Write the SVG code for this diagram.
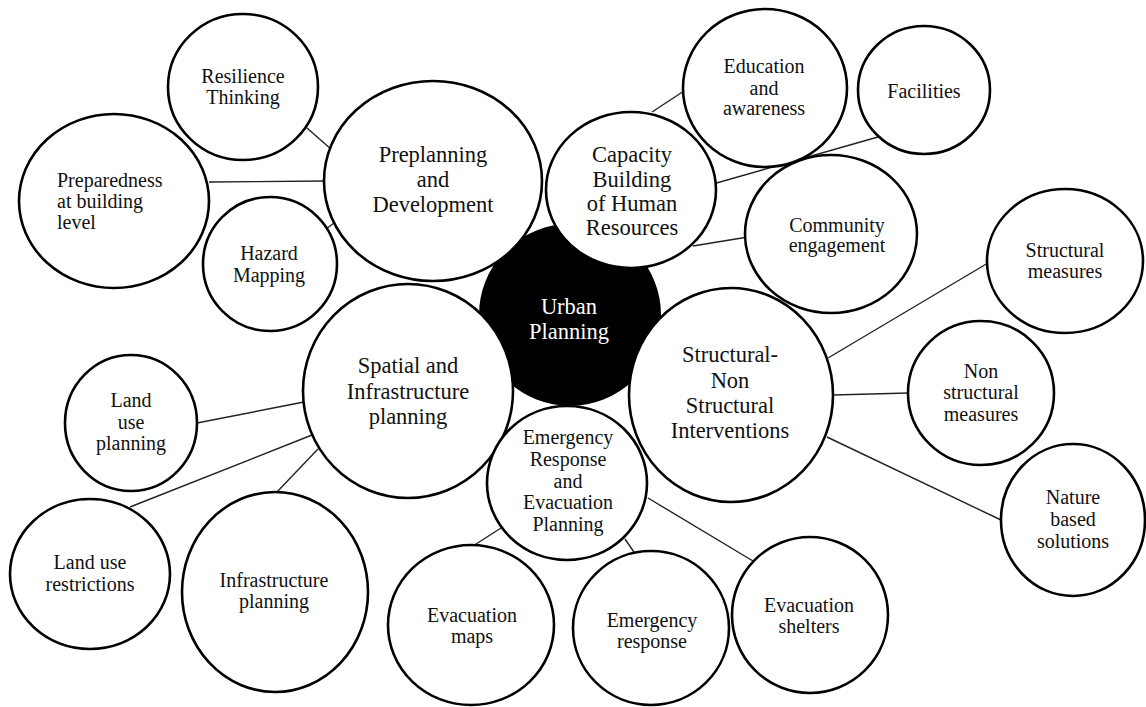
<svg xmlns="http://www.w3.org/2000/svg" width="1146" height="707" viewBox="0 0 1146 707">
<style>
.n{fill:#fff;stroke:#000;stroke-width:2.6}
.c{fill:#000;stroke:#000;stroke-width:2}
.l{stroke:#222;stroke-width:1.4;fill:none}
text{font-family:"Liberation Serif","DejaVu Serif","Times New Roman",serif;fill:#111;text-anchor:middle}
.m{font-size:22.5px}
.s{font-size:20px}
.w{fill:#fff}
</style>
<rect width="1146" height="707" fill="#fff"/>
<g id="connectors">
<line class="l" x1="307" y1="128" x2="332" y2="150"/>
<line class="l" x1="209" y1="182" x2="326" y2="181"/>
<line class="l" x1="326" y1="229" x2="334" y2="223"/>
<line class="l" x1="652" y1="112" x2="684" y2="91"/>
<line class="l" x1="713" y1="184" x2="878" y2="137"/>
<line class="l" x1="693" y1="246" x2="748" y2="237"/>
<line class="l" x1="828" y1="358" x2="988" y2="263"/>
<line class="l" x1="833" y1="395" x2="909" y2="393"/>
<line class="l" x1="827" y1="437" x2="1001" y2="520"/>
<line class="l" x1="197" y1="423" x2="304" y2="402"/>
<line class="l" x1="130" y1="507" x2="312" y2="435"/>
<line class="l" x1="276" y1="493" x2="318" y2="449"/>
<line class="l" x1="473" y1="546" x2="501" y2="528"/>
<line class="l" x1="625" y1="539" x2="638" y2="558"/>
<line class="l" x1="648" y1="498" x2="753" y2="561"/>
</g>
<g id="urban-planning"><ellipse class="c" cx="570" cy="315" rx="90" ry="90"/><text class="m w" x="569" y="314">Urban</text><text class="m w" x="569" y="339">Planning</text></g>
<g id="resilience-thinking"><ellipse class="n" cx="243" cy="87" rx="75" ry="73"/><text class="s" x="243" y="83">Resilience</text><text class="s" x="243" y="104">Thinking</text></g>
<g id="preparedness"><ellipse class="n" cx="114" cy="201" rx="95" ry="87"/><text class="s" x="57" y="187" style="text-anchor:start">Preparedness</text><text class="s" x="57" y="208" style="text-anchor:start">at building</text><text class="s" x="57" y="229" style="text-anchor:start">level</text></g>
<g id="hazard-mapping"><ellipse class="n" cx="270" cy="264" rx="67" ry="67"/><text class="s" x="269" y="260">Hazard</text><text class="s" x="269" y="282">Mapping</text></g>
<g id="preplanning"><ellipse class="n" cx="433" cy="181" rx="109" ry="100"/><text class="m" x="433" y="162">Preplanning</text><text class="m" x="433" y="187">and</text><text class="m" x="433" y="212">Development</text></g>
<g id="capacity-building"><ellipse class="n" cx="631" cy="190" rx="85" ry="78"/><text class="m" x="632" y="162">Capacity</text><text class="m" x="632" y="187">Building</text><text class="m" x="632" y="211">of Human</text><text class="m" x="632" y="235">Resources</text></g>
<g id="education"><ellipse class="n" cx="765" cy="88" rx="82" ry="79"/><text class="s" x="764" y="73">Education</text><text class="s" x="764" y="95">and</text><text class="s" x="764" y="115">awareness</text></g>
<g id="facilities"><ellipse class="n" cx="924" cy="90" rx="66" ry="64"/><text class="s" x="924" y="98">Facilities</text></g>
<g id="community"><ellipse class="n" cx="831" cy="234" rx="86" ry="79"/><text class="s" x="837" y="232">Community</text><text class="s" x="837" y="252">engagement</text></g>
<g id="structural-measures"><ellipse class="n" cx="1065" cy="261" rx="78" ry="72"/><text class="s" x="1065" y="257">Structural</text><text class="s" x="1065" y="278">measures</text></g>
<g id="non-structural-measures"><ellipse class="n" cx="981" cy="393" rx="73" ry="72"/><text class="s" x="981" y="378">Non</text><text class="s" x="981" y="399">structural</text><text class="s" x="981" y="421">measures</text></g>
<g id="nature-based"><ellipse class="n" cx="1073" cy="520" rx="72" ry="76"/><text class="s" x="1073" y="504">Nature</text><text class="s" x="1073" y="526">based</text><text class="s" x="1073" y="548">solutions</text></g>
<g id="structural-non-structural"><ellipse class="n" cx="731" cy="395" rx="102" ry="107"/><text class="m" x="730" y="362">Structural-</text><text class="m" x="730" y="388">Non</text><text class="m" x="730" y="413">Structural</text><text class="m" x="730" y="438">Interventions</text></g>
<g id="spatial-infrastructure"><ellipse class="n" cx="408" cy="391" rx="105" ry="107"/><text class="m" x="408" y="373">Spatial and</text><text class="m" x="408" y="399">Infrastructure</text><text class="m" x="408" y="424">planning</text></g>
<g id="emergency-evacuation"><ellipse class="n" cx="567" cy="483" rx="80" ry="77"/><text class="s" x="568" y="444">Emergency</text><text class="s" x="568" y="466">Response</text><text class="s" x="568" y="488">and</text><text class="s" x="568" y="509">Evacuation</text><text class="s" x="568" y="531">Planning</text></g>
<g id="evacuation-maps"><ellipse class="n" cx="471" cy="625" rx="83" ry="80"/><text class="s" x="472" y="622">Evacuation</text><text class="s" x="472" y="643">maps</text></g>
<g id="emergency-response"><ellipse class="n" cx="651" cy="628" rx="78" ry="77"/><text class="s" x="652" y="627">Emergency</text><text class="s" x="652" y="648">response</text></g>
<g id="evacuation-shelters"><ellipse class="n" cx="810" cy="615" rx="78" ry="78"/><text class="s" x="809" y="612">Evacuation</text><text class="s" x="809" y="633">shelters</text></g>
<g id="land-use-planning"><ellipse class="n" cx="131" cy="423" rx="66" ry="68"/><text class="s" x="131" y="407">Land</text><text class="s" x="131" y="429">use</text><text class="s" x="131" y="450">planning</text></g>
<g id="land-use-restrictions"><ellipse class="n" cx="90" cy="574" rx="80" ry="75"/><text class="s" x="90" y="569">Land use</text><text class="s" x="90" y="591">restrictions</text></g>
<g id="infrastructure-planning"><ellipse class="n" cx="275" cy="592" rx="93" ry="100"/><text class="s" x="274" y="587">Infrastructure</text><text class="s" x="274" y="608">planning</text></g>
</svg>
